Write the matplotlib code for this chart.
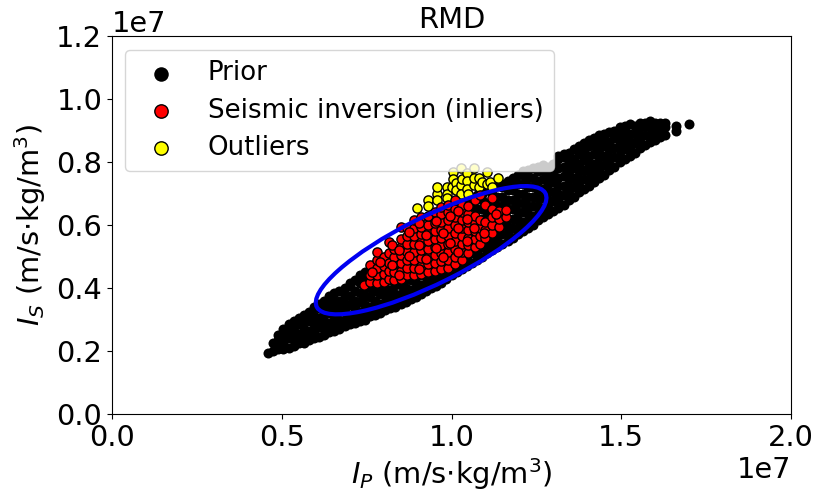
import matplotlib
matplotlib.use("Agg")
import matplotlib.pyplot as plt
from matplotlib.patches import Ellipse
import numpy as np

# values, in units of 1e7
# prior cloud: one IP value with the IS values seen at that IP
prior_columns = [
    (0.46, [0.195]),
    (0.475, [0.20, 0.225]),
    (0.49, [0.205, 0.235, 0.25]),
    (0.505, [0.205, 0.225, 0.25, 0.27]),
    (0.52, [0.21, 0.24, 0.27, 0.285]),
    (0.535, [0.215, 0.235, 0.255, 0.275, 0.295]),
    (0.55, [0.225, 0.255, 0.285, 0.305]),
    (0.565, [0.225, 0.245, 0.27, 0.295, 0.315]),
    (0.58, [0.235, 0.265, 0.295, 0.325]),
    (0.595, [0.24, 0.26, 0.285, 0.31, 0.34]),
    (0.61, [0.245, 0.275, 0.305, 0.335, 0.35]),
    (0.625, [0.25, 0.27, 0.295, 0.32, 0.345, 0.36]),
    (0.64, [0.26, 0.29, 0.32, 0.35, 0.375]),
    (0.655, [0.265, 0.285, 0.31, 0.335, 0.36, 0.385]),
    (0.67, [0.27, 0.30, 0.33, 0.36, 0.39]),
    (0.685, [0.28, 0.30, 0.325, 0.35, 0.375, 0.40]),
    (0.70, [0.285, 0.315, 0.345, 0.375, 0.405, 0.415]),
    (0.715, [0.29, 0.31, 0.335, 0.36, 0.39, 0.425]),
    (0.73, [0.295, 0.325, 0.355, 0.385, 0.415, 0.44]),
    (0.745, [0.30, 0.32, 0.345, 0.375, 0.40, 0.43, 0.45]),
    (0.76, [0.31, 0.34, 0.37, 0.40, 0.43, 0.46]),
    (0.775, [0.315, 0.335, 0.36, 0.39, 0.42, 0.45, 0.475]),
    (0.79, [0.32, 0.35, 0.38, 0.41, 0.44, 0.47, 0.485]),
    (0.805, [0.33, 0.35, 0.375, 0.40, 0.43, 0.46, 0.50]),
    (0.82, [0.335, 0.365, 0.395, 0.425, 0.455, 0.485, 0.51]),
    (0.835, [0.34, 0.36, 0.38, 0.41, 0.44, 0.47, 0.50, 0.52]),
    (0.85, [0.35, 0.38, 0.41, 0.44, 0.47, 0.50, 0.53]),
    (0.865, [0.355, 0.375, 0.40, 0.43, 0.46, 0.49, 0.52, 0.545]),
    (0.88, [0.365, 0.395, 0.425, 0.455, 0.485, 0.515, 0.545, 0.555]),
    (0.895, [0.37, 0.39, 0.415, 0.44, 0.47, 0.50, 0.53, 0.565]),
    (0.91, [0.38, 0.41, 0.44, 0.47, 0.50, 0.53, 0.56, 0.58]),
    (0.925, [0.39, 0.41, 0.435, 0.46, 0.49, 0.52, 0.55, 0.59]),
    (0.94, [0.40, 0.43, 0.46, 0.49, 0.52, 0.55, 0.58, 0.605]),
    (0.955, [0.405, 0.425, 0.45, 0.48, 0.51, 0.54, 0.57, 0.615]),
    (0.97, [0.415, 0.445, 0.475, 0.505, 0.535, 0.565, 0.595, 0.625]),
    (0.985, [0.43, 0.45, 0.475, 0.50, 0.53, 0.56, 0.60, 0.635]),
    (1.00, [0.44, 0.47, 0.50, 0.53, 0.56, 0.59, 0.62, 0.645]),
    (1.015, [0.45, 0.47, 0.495, 0.52, 0.55, 0.58, 0.61, 0.655]),
    (1.03, [0.46, 0.49, 0.52, 0.55, 0.58, 0.61, 0.64, 0.665]),
    (1.045, [0.47, 0.49, 0.515, 0.54, 0.57, 0.60, 0.63, 0.675]),
    (1.06, [0.48, 0.51, 0.54, 0.57, 0.60, 0.63, 0.66, 0.685]),
    (1.075, [0.49, 0.51, 0.535, 0.56, 0.59, 0.62, 0.65, 0.695]),
    (1.09, [0.50, 0.53, 0.56, 0.59, 0.62, 0.65, 0.68, 0.70]),
    (1.105, [0.51, 0.53, 0.555, 0.58, 0.61, 0.64, 0.67, 0.71]),
    (1.12, [0.52, 0.55, 0.58, 0.61, 0.64, 0.67, 0.70, 0.715]),
    (1.135, [0.53, 0.55, 0.575, 0.60, 0.63, 0.66, 0.69, 0.725]),
    (1.15, [0.54, 0.57, 0.60, 0.63, 0.66, 0.69, 0.72, 0.73]),
    (1.165, [0.55, 0.57, 0.595, 0.62, 0.65, 0.68, 0.71, 0.74]),
    (1.18, [0.56, 0.59, 0.62, 0.65, 0.68, 0.71, 0.74, 0.75]),
    (1.195, [0.57, 0.59, 0.615, 0.64, 0.67, 0.70, 0.73, 0.76]),
    (1.21, [0.58, 0.61, 0.64, 0.67, 0.70, 0.73, 0.76, 0.77]),
    (1.225, [0.59, 0.61, 0.635, 0.66, 0.69, 0.72, 0.75, 0.775]),
    (1.24, [0.60, 0.63, 0.66, 0.69, 0.72, 0.75, 0.78]),
    (1.255, [0.615, 0.635, 0.66, 0.685, 0.71, 0.74, 0.77, 0.785]),
    (1.27, [0.625, 0.655, 0.685, 0.715, 0.745, 0.775, 0.79]),
    (1.285, [0.635, 0.655, 0.68, 0.705, 0.73, 0.76, 0.785]),
    (1.30, [0.645, 0.675, 0.705, 0.735, 0.765, 0.795]),
    (1.315, [0.655, 0.675, 0.70, 0.725, 0.75, 0.78, 0.81, 0.82]),
    (1.33, [0.665, 0.695, 0.725, 0.755, 0.785, 0.815, 0.825]),
    (1.345, [0.68, 0.70, 0.72, 0.745, 0.77, 0.80, 0.83]),
    (1.36, [0.69, 0.72, 0.75, 0.78, 0.81, 0.84]),
    (1.375, [0.705, 0.725, 0.745, 0.77, 0.795, 0.825, 0.85]),
    (1.39, [0.715, 0.745, 0.775, 0.805, 0.835, 0.86]),
    (1.405, [0.725, 0.745, 0.77, 0.795, 0.82, 0.85, 0.87]),
    (1.42, [0.735, 0.765, 0.795, 0.825, 0.855, 0.875]),
    (1.435, [0.75, 0.77, 0.79, 0.815, 0.84, 0.865, 0.885]),
    (1.45, [0.76, 0.79, 0.82, 0.85, 0.88, 0.89]),
    (1.465, [0.775, 0.795, 0.815, 0.84, 0.865, 0.895]),
    (1.48, [0.785, 0.815, 0.845, 0.875, 0.90]),
    (1.495, [0.80, 0.82, 0.84, 0.865, 0.89, 0.91]),
    (1.51, [0.81, 0.84, 0.87, 0.90, 0.915]),
    (1.525, [0.82, 0.84, 0.865, 0.89, 0.92]),
    (1.54, [0.83, 0.86, 0.89, 0.915]),
    (1.555, [0.845, 0.865, 0.885, 0.91, 0.925]),
    (1.57, [0.855, 0.885, 0.915, 0.925]),
    (1.585, [0.865, 0.885, 0.91, 0.93]),
    (1.60, [0.87, 0.90, 0.925]),
    (1.615, [0.88, 0.90, 0.925]),
    (1.63, [0.885, 0.91, 0.925]),
    (1.66, [0.90, 0.915]),
    (1.70, [0.92]),
]

inlier_columns = [
    (0.742, [0.41]),
    (0.76, [0.42, 0.44, 0.473]),
    (0.78, [0.415, 0.44, 0.465, 0.49, 0.514]),
    (0.80, [0.42, 0.445, 0.47, 0.50]),
    (0.815, [0.43, 0.455, 0.48, 0.51, 0.546]),
    (0.83, [0.425, 0.45, 0.475, 0.50, 0.525]),
    (0.85, [0.43, 0.455, 0.48, 0.505, 0.53, 0.555, 0.594]),
    (0.87, [0.44, 0.465, 0.49, 0.515, 0.54, 0.565, 0.59]),
    (0.89, [0.44, 0.465, 0.49, 0.515, 0.54, 0.565, 0.59, 0.615]),
    (0.91, [0.445, 0.47, 0.495, 0.52, 0.545, 0.57, 0.595, 0.625]),
    (0.93, [0.45, 0.475, 0.50, 0.525, 0.55, 0.575, 0.60, 0.63]),
    (0.95, [0.455, 0.48, 0.505, 0.53, 0.555, 0.58, 0.605, 0.64]),
    (0.97, [0.46, 0.485, 0.51, 0.535, 0.56, 0.585, 0.61, 0.635, 0.657]),
    (0.99, [0.465, 0.49, 0.515, 0.54, 0.565, 0.59, 0.615, 0.64, 0.665]),
    (1.01, [0.475, 0.50, 0.525, 0.55, 0.575, 0.60, 0.625, 0.65, 0.679]),
    (1.03, [0.49, 0.515, 0.54, 0.565, 0.59, 0.615, 0.64, 0.665]),
    (1.05, [0.51, 0.535, 0.56, 0.585, 0.61, 0.635, 0.66]),
    (1.07, [0.53, 0.555, 0.58, 0.605, 0.63, 0.68]),
    (1.085, [0.54, 0.565, 0.59, 0.615, 0.695]),
    (1.10, [0.56, 0.585, 0.61, 0.665]),
    (1.12, [0.575, 0.60, 0.625, 0.65, 0.686]),
    (1.14, [0.595, 0.62, 0.645]),
    (1.16, [0.625, 0.648]),
    # scattered ones drawn last, these sit on top of the pile
    (0.765, [0.452]),
    (0.79, [0.484]),
    (0.825, [0.472, 0.536]),
    (0.845, [0.442, 0.52]),
    (0.875, [0.578, 0.503]),
    (0.905, [0.607, 0.459, 0.537]),
    (0.925, [0.568, 0.492]),
    (0.955, [0.528, 0.613]),
    (0.975, [0.574, 0.499]),
    (0.995, [0.627, 0.543]),
    (1.02, [0.59, 0.514, 0.645]),
    (1.045, [0.548, 0.62]),
    (1.065, [0.592]),
    (1.095, [0.575]),
    (1.13, [0.635]),
]

outlier_columns = [
    (0.897, [0.654]),
    (0.932, [0.679, 0.66]),
    (0.956, [0.70, 0.68, 0.72]),
    (0.986, [0.72, 0.70, 0.685]),
    (1.00, [0.72]),
    (1.004, [0.768, 0.745]),
    (1.013, [0.733, 0.71]),
    (1.028, [0.781, 0.727, 0.70]),
    (1.03, [0.745]),
    (1.045, [0.765, 0.74, 0.715]),
    (1.05, [0.70]),
    (1.067, [0.727, 0.75, 0.781]),
    (1.08, [0.749, 0.72]),
    (1.09, [0.735]),
    (1.104, [0.768, 0.73]),
    (1.113, [0.736]),
    (1.12, [0.72]),
    (1.136, [0.749]),
]

# blue ellipse: centre, full axes lengths and tilt in degrees
ellipse_center = (0.94, 0.52)
ellipse_width = 0.764
ellipse_height = 0.209
ellipse_angle = 28.4


def flatten(columns):
    xs = [x for x, ys in columns for y in ys]
    ys_flat = [y for x, ys in columns for y in ys]
    return np.array(xs) * 1e7, np.array(ys_flat) * 1e7


prior_x, prior_y = flatten(prior_columns)
inlier_x, inlier_y = flatten(inlier_columns)
outlier_x, outlier_y = flatten(outlier_columns)

fig = plt.figure(figsize=(8.17, 4.97), dpi=100)
ax = fig.add_axes([112 / 817, 1 - 414 / 497, 679 / 817, 378 / 497])

h_prior = ax.scatter(prior_x, prior_y, s=52, c="black", edgecolors="black",
                     linewidths=0, label="Prior", zorder=2)
h_out = ax.scatter(outlier_x, outlier_y, s=44, c="yellow", edgecolors="black",
                   linewidths=1, label="Outliers", zorder=3)
h_in = ax.scatter(inlier_x, inlier_y, s=44, c="red", edgecolors="black",
                  linewidths=1, label="Seismic inversion (inliers)", zorder=4)

ax.add_patch(Ellipse((ellipse_center[0] * 1e7, ellipse_center[1] * 1e7),
                     ellipse_width * 1e7, ellipse_height * 1e7,
                     angle=ellipse_angle, fill=False, edgecolor="#0000f0",
                     linewidth=3, zorder=5))

ax.set_xlim(0, 2e7)
ax.set_ylim(0, 1.2e7)
ax.set_xticks([0, 0.5e7, 1e7, 1.5e7, 2e7])
ax.set_yticks([0, 0.2e7, 0.4e7, 0.6e7, 0.8e7, 1e7, 1.2e7])
ax.tick_params(labelsize=20.8)
ax.xaxis.get_offset_text().set_fontsize(20.8)
ax.yaxis.get_offset_text().set_fontsize(20.8)

ax.set_title("RMD", fontsize=20.8, pad=6)
ax.set_xlabel(r"$I_P$ (m/s$\cdot$kg/m$^3$)", fontsize=20.8, labelpad=3)
ax.set_ylabel(r"$I_S$ (m/s$\cdot$kg/m$^3$)", fontsize=20.8, labelpad=6)

ax.legend([h_prior, h_in, h_out],
          ["Prior", "Seismic inversion (inliers)", "Outliers"],
          loc="upper left", fontsize=18.7, markerscale=1.45, labelspacing=0.43,
          bbox_to_anchor=(0.0185, 0.963), borderaxespad=0)

fig.savefig("out.png", dpi=100)
